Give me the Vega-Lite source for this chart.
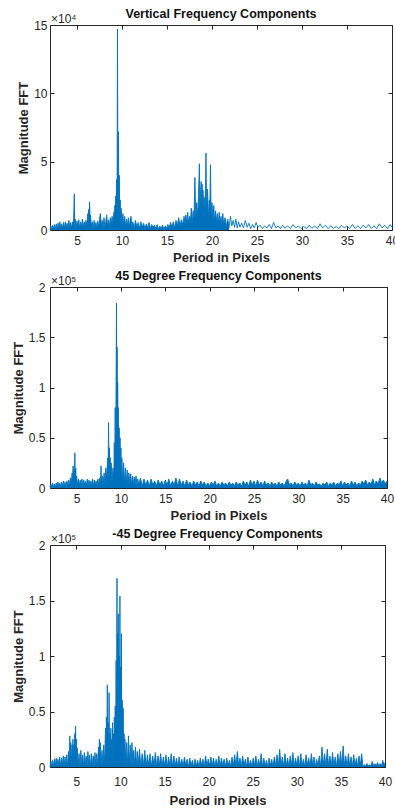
{
"$schema": "https://vega.github.io/schema/vega-lite/v6.json",
"background": "white",
"padding": {"left": 11, "top": 7, "right": 0, "bottom": 2},
"config": {
  "font": "Liberation Sans",
  "view": {"stroke": "#262626", "strokeWidth": 1},
  "axis": {"grid": false, "domain": false, "ticks": true, "tickColor": "#262626", "tickSize": -4, "tickWidth": 1, "labelColor": "#262626", "labelFontSize": 12, "labelFlush": false, "labelOverlap": false, "titleFontSize": 13, "titleFontWeight": "bold", "titleColor": "#262626", "titlePadding": 5},
  "axisX": {"labelPadding": 9},
  "axisY": {"labelPadding": 7, "titlePadding": 3},
  "title": {"fontSize": 12.5, "fontWeight": "bold", "color": "#111111", "offset": -7},
  "line": {"color": "#0072BD", "strokeWidth": 0.9},
  "area": {"color": "#0072BD", "opacity": 1},
  "text": {"color": "#262626", "fontSize": 12, "align": "left", "baseline": "alphabetic"}
},
"datasets": {
"v": [
{"p":2.0,"m":0.05},{"p":2.1,"m":0.3},{"p":2.2,"m":0.05},{"p":2.3,"m":0.35},{"p":2.4,"m":0.08},{"p":2.5,"m":0.4},{"p":2.6,"m":0.1},{"p":2.7,"m":0.45},{"p":2.8,"m":0.05},{"p":2.9,"m":0.5},
{"p":3.0,"m":0.1},{"p":3.1,"m":0.6},{"p":3.2,"m":0.08},{"p":3.3,"m":0.45},{"p":3.4,"m":0.12},{"p":3.5,"m":0.55},{"p":3.6,"m":0.1},{"p":3.7,"m":0.6},{"p":3.8,"m":0.15},{"p":3.9,"m":0.5},
{"p":4.0,"m":0.1},{"p":4.1,"m":0.7},{"p":4.2,"m":0.15},{"p":4.3,"m":0.55},{"p":4.4,"m":0.1},{"p":4.5,"m":0.6},{"p":4.6,"m":0.2},{"p":4.7,"m":2.65},{"p":4.75,"m":0.3},{"p":4.8,"m":0.8},{"p":4.9,"m":0.15},
{"p":5.0,"m":0.65},{"p":5.1,"m":0.2},{"p":5.2,"m":0.75},{"p":5.3,"m":0.1},{"p":5.4,"m":0.6},{"p":5.5,"m":0.2},{"p":5.6,"m":0.8},{"p":5.7,"m":0.15},{"p":5.8,"m":0.6},{"p":5.9,"m":0.25},
{"p":6.0,"m":0.7},{"p":6.1,"m":0.3},{"p":6.2,"m":1.2},{"p":6.25,"m":0.5},{"p":6.3,"m":1.5},{"p":6.35,"m":0.6},{"p":6.4,"m":2.05},{"p":6.45,"m":0.7},{"p":6.5,"m":1.1},{"p":6.6,"m":0.3},{"p":6.7,"m":0.6},{"p":6.8,"m":0.15},{"p":6.9,"m":0.7},
{"p":7.0,"m":0.2},{"p":7.1,"m":0.55},{"p":7.2,"m":0.1},{"p":7.3,"m":0.65},{"p":7.4,"m":0.2},{"p":7.5,"m":0.8},{"p":7.6,"m":1.2},{"p":7.7,"m":0.3},{"p":7.8,"m":0.7},{"p":7.9,"m":0.15},
{"p":8.0,"m":0.9},{"p":8.1,"m":0.2},{"p":8.2,"m":0.6},{"p":8.3,"m":1.1},{"p":8.4,"m":0.25},{"p":8.5,"m":0.75},{"p":8.6,"m":0.2},{"p":8.7,"m":0.9},{"p":8.8,"m":0.3},{"p":8.9,"m":1.0},
{"p":9.0,"m":0.4},{"p":9.1,"m":1.3},{"p":9.15,"m":0.6},{"p":9.2,"m":1.8},{"p":9.25,"m":0.9},{"p":9.3,"m":2.5},{"p":9.35,"m":1.2},{"p":9.4,"m":3.7},{"p":9.45,"m":1.5},{"p":9.5,"m":14.7},{"p":9.55,"m":2.0},{"p":9.6,"m":7.2},{"p":9.65,"m":1.6},{"p":9.7,"m":4.0},{"p":9.75,"m":1.2},{"p":9.8,"m":2.2},{"p":9.85,"m":0.6},{"p":9.9,"m":1.6},
{"p":10.0,"m":0.4},{"p":10.1,"m":1.2},{"p":10.2,"m":0.3},{"p":10.3,"m":1.0},{"p":10.4,"m":0.2},{"p":10.5,"m":0.8},{"p":10.6,"m":0.3},{"p":10.7,"m":0.9},{"p":10.8,"m":0.2},{"p":10.9,"m":0.7},
{"p":11.0,"m":1.0},{"p":11.1,"m":0.2},{"p":11.2,"m":0.6},{"p":11.35,"m":0.15},{"p":11.5,"m":0.7},{"p":11.65,"m":0.2},{"p":11.8,"m":0.55},{"p":11.95,"m":0.1},{"p":12.1,"m":0.6},{"p":12.25,"m":0.2},{"p":12.4,"m":0.5},{"p":12.55,"m":0.1},{"p":12.7,"m":0.45},{"p":12.85,"m":0.15},
{"p":13.0,"m":0.55},{"p":13.15,"m":0.1},{"p":13.3,"m":0.4},{"p":13.45,"m":0.2},{"p":13.6,"m":0.35},{"p":13.75,"m":0.1},{"p":13.9,"m":0.4},{"p":14.05,"m":0.05},{"p":14.2,"m":0.3},{"p":14.35,"m":0.1},{"p":14.5,"m":0.35},{"p":14.65,"m":0.05},{"p":14.8,"m":0.3},{"p":14.95,"m":0.1},
{"p":15.1,"m":0.4},{"p":15.25,"m":0.15},{"p":15.4,"m":0.55},{"p":15.55,"m":0.2},{"p":15.7,"m":0.6},{"p":15.85,"m":0.15},{"p":16.0,"m":0.7},{"p":16.15,"m":0.3},{"p":16.3,"m":0.9},{"p":16.45,"m":0.3},{"p":16.6,"m":0.75},{"p":16.75,"m":0.4},{"p":16.9,"m":1.0},
{"p":17.0,"m":0.4},{"p":17.1,"m":1.1},{"p":17.2,"m":0.5},{"p":17.3,"m":1.3},{"p":17.4,"m":0.4},{"p":17.5,"m":1.0},{"p":17.6,"m":0.6},{"p":17.7,"m":1.6},{"p":17.8,"m":0.5},{"p":17.9,"m":1.4},
{"p":18.0,"m":0.8},{"p":18.1,"m":3.85},{"p":18.2,"m":0.9},{"p":18.3,"m":2.0},{"p":18.4,"m":1.0},{"p":18.5,"m":2.6},{"p":18.6,"m":4.85},{"p":18.65,"m":1.4},{"p":18.7,"m":2.4},{"p":18.8,"m":3.55},{"p":18.85,"m":1.2},{"p":18.9,"m":3.35},{"p":18.95,"m":1.0},
{"p":19.0,"m":2.9},{"p":19.1,"m":1.5},{"p":19.2,"m":2.4},{"p":19.25,"m":1.0},{"p":19.33,"m":5.63},{"p":19.4,"m":1.2},{"p":19.5,"m":3.0},{"p":19.6,"m":0.9},{"p":19.7,"m":2.2},{"p":19.75,"m":1.1},{"p":19.83,"m":4.78},{"p":19.9,"m":1.0},
{"p":20.0,"m":2.0},{"p":20.1,"m":0.6},{"p":20.2,"m":1.8},{"p":20.3,"m":0.5},{"p":20.4,"m":1.4},{"p":20.5,"m":0.6},{"p":20.6,"m":1.2},{"p":20.7,"m":0.4},{"p":20.8,"m":1.3},{"p":20.9,"m":0.5},
{"p":21.0,"m":1.0},{"p":21.1,"m":0.3},{"p":21.2,"m":1.2},{"p":21.3,"m":0.4},{"p":21.45,"m":0.9},{"p":21.6,"m":0.3},{"p":21.75,"m":0.8},{"p":21.9,"m":0.2},
{"p":22.05,"m":1.0},{"p":22.2,"m":0.3},{"p":22.35,"m":0.7},{"p":22.5,"m":0.2},{"p":22.65,"m":0.8},{"p":22.8,"m":0.15},{"p":22.95,"m":0.6},{"p":23.1,"m":0.2},{"p":23.3,"m":0.5},{"p":23.5,"m":0.15},{"p":23.7,"m":0.7},{"p":23.9,"m":0.2},
{"p":24.1,"m":0.5},{"p":24.3,"m":0.1},{"p":24.5,"m":0.4},{"p":24.7,"m":0.15},{"p":24.9,"m":0.55},{"p":25.1,"m":0.2},{"p":25.35,"m":0.35},{"p":25.6,"m":0.1},{"p":25.85,"m":0.3},{"p":26.1,"m":0.15},{"p":26.35,"m":0.4},{"p":26.6,"m":0.1},{"p":26.85,"m":0.55},
{"p":27.1,"m":0.15},{"p":27.35,"m":0.3},{"p":27.6,"m":0.1},{"p":27.85,"m":0.35},{"p":28.1,"m":0.15},{"p":28.4,"m":0.3},{"p":28.7,"m":0.1},{"p":29.0,"m":0.4},{"p":29.3,"m":0.15},{"p":29.6,"m":0.3},{"p":29.9,"m":0.1},
{"p":30.2,"m":0.25},{"p":30.5,"m":0.1},{"p":30.8,"m":0.35},{"p":31.1,"m":0.12},{"p":31.4,"m":0.3},{"p":31.7,"m":0.1},{"p":32.0,"m":0.45},{"p":32.3,"m":0.15},{"p":32.6,"m":0.35},{"p":32.9,"m":0.1},
{"p":33.2,"m":0.3},{"p":33.5,"m":0.12},{"p":33.8,"m":0.25},{"p":34.1,"m":0.1},{"p":34.4,"m":0.35},{"p":34.7,"m":0.15},{"p":35.0,"m":0.3},{"p":35.3,"m":0.1},{"p":35.6,"m":0.4},{"p":35.9,"m":0.12},
{"p":36.2,"m":0.3},{"p":36.5,"m":0.1},{"p":36.8,"m":0.35},{"p":37.1,"m":0.15},{"p":37.4,"m":0.4},{"p":37.7,"m":0.12},{"p":38.0,"m":0.3},{"p":38.3,"m":0.1},{"p":38.6,"m":0.45},{"p":38.9,"m":0.15},{"p":39.2,"m":0.35},{"p":39.5,"m":0.1},{"p":39.8,"m":0.4},{"p":40.0,"m":0.2}
],
"d45": [
{"p":2.0,"m":0.01},{"p":2.1,"m":0.04},{"p":2.2,"m":0.01},{"p":2.3,"m":0.05},{"p":2.4,"m":0.005},{"p":2.5,"m":0.04},{"p":2.6,"m":0.01},{"p":2.7,"m":0.05},{"p":2.8,"m":0.01},{"p":2.9,"m":0.06},
{"p":3.0,"m":0.01},{"p":3.1,"m":0.05},{"p":3.2,"m":0.015},{"p":3.3,"m":0.06},{"p":3.4,"m":0.01},{"p":3.5,"m":0.07},{"p":3.6,"m":0.02},{"p":3.7,"m":0.06},{"p":3.8,"m":0.01},{"p":3.9,"m":0.07},
{"p":4.0,"m":0.02},{"p":4.1,"m":0.08},{"p":4.2,"m":0.03},{"p":4.3,"m":0.1},{"p":4.4,"m":0.05},{"p":4.5,"m":0.15},{"p":4.55,"m":0.06},{"p":4.6,"m":0.22},{"p":4.65,"m":0.08},{"p":4.7,"m":0.18},{"p":4.75,"m":0.1},{"p":4.8,"m":0.35},{"p":4.85,"m":0.1},{"p":4.9,"m":0.2},{"p":4.95,"m":0.07},
{"p":5.0,"m":0.12},{"p":5.1,"m":0.03},{"p":5.2,"m":0.09},{"p":5.3,"m":0.02},{"p":5.4,"m":0.08},{"p":5.5,"m":0.03},{"p":5.6,"m":0.09},{"p":5.7,"m":0.02},{"p":5.8,"m":0.08},{"p":5.9,"m":0.03},
{"p":6.0,"m":0.07},{"p":6.1,"m":0.02},{"p":6.2,"m":0.09},{"p":6.3,"m":0.03},{"p":6.4,"m":0.08},{"p":6.5,"m":0.02},{"p":6.6,"m":0.07},{"p":6.7,"m":0.03},{"p":6.8,"m":0.09},{"p":6.9,"m":0.02},
{"p":7.0,"m":0.08},{"p":7.1,"m":0.03},{"p":7.2,"m":0.07},{"p":7.3,"m":0.02},{"p":7.4,"m":0.09},{"p":7.5,"m":0.03},{"p":7.6,"m":0.1},{"p":7.7,"m":0.04},{"p":7.75,"m":0.22},{"p":7.8,"m":0.05},{"p":7.9,"m":0.12},
{"p":8.0,"m":0.04},{"p":8.1,"m":0.15},{"p":8.2,"m":0.05},{"p":8.3,"m":0.2},{"p":8.4,"m":0.08},{"p":8.5,"m":0.3},{"p":8.55,"m":0.12},{"p":8.6,"m":0.65},{"p":8.65,"m":0.15},{"p":8.7,"m":0.4},{"p":8.75,"m":0.1},{"p":8.8,"m":0.3},{"p":8.85,"m":0.08},{"p":8.9,"m":0.25},
{"p":9.0,"m":0.06},{"p":9.1,"m":0.2},{"p":9.2,"m":0.1},{"p":9.25,"m":0.45},{"p":9.3,"m":0.15},{"p":9.35,"m":0.8},{"p":9.4,"m":0.25},{"p":9.45,"m":1.0},{"p":9.5,"m":1.84},{"p":9.53,"m":0.3},{"p":9.57,"m":1.4},{"p":9.6,"m":0.0},{"p":9.63,"m":1.05},{"p":9.67,"m":0.3},{"p":9.7,"m":0.8},{"p":9.75,"m":0.2},{"p":9.8,"m":0.6},{"p":9.85,"m":0.15},{"p":9.9,"m":0.5},{"p":9.95,"m":0.1},
{"p":10.0,"m":0.4},{"p":10.05,"m":0.08},{"p":10.1,"m":0.3},{"p":10.2,"m":0.06},{"p":10.3,"m":0.25},{"p":10.4,"m":0.05},{"p":10.5,"m":0.2},{"p":10.6,"m":0.04},{"p":10.7,"m":0.18},{"p":10.8,"m":0.05},{"p":10.9,"m":0.15},
{"p":11.0,"m":0.04},{"p":11.1,"m":0.14},{"p":11.2,"m":0.03},{"p":11.3,"m":0.12},{"p":11.4,"m":0.04},{"p":11.5,"m":0.11},{"p":11.6,"m":0.03},{"p":11.7,"m":0.12},{"p":11.8,"m":0.03},{"p":11.9,"m":0.09},
{"p":12.0,"m":0.03},{"p":12.2,"m":0.1},{"p":12.4,"m":0.02},{"p":12.6,"m":0.09},{"p":12.8,"m":0.03},{"p":13.0,"m":0.08},{"p":13.2,"m":0.02},{"p":13.4,"m":0.09},{"p":13.6,"m":0.03},{"p":13.8,"m":0.07},
{"p":14.0,"m":0.02},{"p":14.2,"m":0.08},{"p":14.4,"m":0.03},{"p":14.6,"m":0.07},{"p":14.8,"m":0.02},{"p":15.0,"m":0.08},{"p":15.2,"m":0.03},{"p":15.4,"m":0.09},{"p":15.6,"m":0.02},{"p":15.8,"m":0.07},
{"p":16.0,"m":0.03},{"p":16.2,"m":0.1},{"p":16.4,"m":0.02},{"p":16.6,"m":0.09},{"p":16.8,"m":0.03},{"p":17.0,"m":0.07},{"p":17.2,"m":0.02},{"p":17.4,"m":0.08},{"p":17.6,"m":0.03},{"p":17.8,"m":0.06},
{"p":18.0,"m":0.02},{"p":18.2,"m":0.07},{"p":18.4,"m":0.03},{"p":18.6,"m":0.06},{"p":18.8,"m":0.02},{"p":19.0,"m":0.07},{"p":19.2,"m":0.03},{"p":19.4,"m":0.06},{"p":19.6,"m":0.02},{"p":19.8,"m":0.05},
{"p":20.0,"m":0.02},{"p":20.2,"m":0.06},{"p":20.4,"m":0.03},{"p":20.6,"m":0.07},{"p":20.8,"m":0.02},{"p":21.0,"m":0.05},{"p":21.2,"m":0.02},{"p":21.4,"m":0.06},{"p":21.6,"m":0.03},{"p":21.8,"m":0.05},
{"p":22.0,"m":0.02},{"p":22.2,"m":0.06},{"p":22.4,"m":0.03},{"p":22.6,"m":0.05},{"p":22.8,"m":0.02},{"p":23.0,"m":0.06},{"p":23.2,"m":0.03},{"p":23.4,"m":0.05},{"p":23.6,"m":0.02},{"p":23.8,"m":0.07},
{"p":24.0,"m":0.03},{"p":24.2,"m":0.06},{"p":24.4,"m":0.02},{"p":24.6,"m":0.08},{"p":24.8,"m":0.03},{"p":25.0,"m":0.07},{"p":25.2,"m":0.02},{"p":25.4,"m":0.08},{"p":25.6,"m":0.03},{"p":25.8,"m":0.06},
{"p":26.0,"m":0.02},{"p":26.2,"m":0.07},{"p":26.4,"m":0.03},{"p":26.6,"m":0.05},{"p":26.8,"m":0.02},{"p":27.0,"m":0.06},{"p":27.2,"m":0.03},{"p":27.4,"m":0.05},{"p":27.6,"m":0.02},{"p":27.8,"m":0.06},
{"p":28.0,"m":0.03},{"p":28.2,"m":0.05},{"p":28.4,"m":0.02},{"p":28.6,"m":0.06},{"p":28.8,"m":0.09},{"p":29.0,"m":0.03},{"p":29.2,"m":0.05},{"p":29.4,"m":0.02},{"p":29.6,"m":0.06},{"p":29.8,"m":0.03},
{"p":30.0,"m":0.05},{"p":30.2,"m":0.02},{"p":30.4,"m":0.06},{"p":30.6,"m":0.03},{"p":30.8,"m":0.05},{"p":31.0,"m":0.02},{"p":31.2,"m":0.08},{"p":31.4,"m":0.03},{"p":31.6,"m":0.05},{"p":31.8,"m":0.02},
{"p":32.0,"m":0.06},{"p":32.2,"m":0.03},{"p":32.4,"m":0.04},{"p":32.6,"m":0.02},{"p":32.8,"m":0.05},{"p":33.0,"m":0.03},{"p":33.2,"m":0.06},{"p":33.4,"m":0.02},{"p":33.6,"m":0.05},{"p":33.8,"m":0.03},
{"p":34.0,"m":0.06},{"p":34.2,"m":0.02},{"p":34.4,"m":0.05},{"p":34.6,"m":0.03},{"p":34.8,"m":0.07},{"p":35.0,"m":0.02},{"p":35.2,"m":0.06},{"p":35.4,"m":0.03},{"p":35.6,"m":0.05},{"p":35.8,"m":0.02},
{"p":36.0,"m":0.07},{"p":36.2,"m":0.03},{"p":36.4,"m":0.06},{"p":36.6,"m":0.02},{"p":36.8,"m":0.05},{"p":37.0,"m":0.03},{"p":37.2,"m":0.07},{"p":37.4,"m":0.04},{"p":37.6,"m":0.08},{"p":37.8,"m":0.03},
{"p":38.0,"m":0.06},{"p":38.2,"m":0.04},{"p":38.4,"m":0.09},{"p":38.6,"m":0.03},{"p":38.8,"m":0.07},{"p":39.0,"m":0.04},{"p":39.2,"m":0.1},{"p":39.4,"m":0.05},{"p":39.6,"m":0.08},{"p":39.8,"m":0.04},{"p":40.0,"m":0.07}
],
"dm45": [
{"p":2.0,"m":0.0},{"p":2.1,"m":0.05},{"p":2.2,"m":0.01},{"p":2.3,"m":0.06},{"p":2.4,"m":0.0},{"p":2.5,"m":0.07},{"p":2.6,"m":0.01},{"p":2.7,"m":0.08},{"p":2.8,"m":0.0},{"p":2.9,"m":0.07},
{"p":3.0,"m":0.01},{"p":3.1,"m":0.09},{"p":3.2,"m":0.0},{"p":3.3,"m":0.08},{"p":3.4,"m":0.01},{"p":3.5,"m":0.1},{"p":3.6,"m":0.0},{"p":3.7,"m":0.09},{"p":3.8,"m":0.01},{"p":3.9,"m":0.11},
{"p":4.0,"m":0.0},{"p":4.1,"m":0.14},{"p":4.2,"m":0.02},{"p":4.25,"m":0.28},{"p":4.3,"m":0.03},{"p":4.35,"m":0.22},{"p":4.4,"m":0.02},{"p":4.5,"m":0.2},{"p":4.55,"m":0.03},{"p":4.6,"m":0.25},{"p":4.65,"m":0.03},{"p":4.7,"m":0.2},{"p":4.75,"m":0.04},{"p":4.8,"m":0.3},{"p":4.85,"m":0.03},{"p":4.9,"m":0.37},{"p":4.95,"m":0.04},
{"p":5.0,"m":0.25},{"p":5.05,"m":0.02},{"p":5.1,"m":0.17},{"p":5.2,"m":0.01},{"p":5.3,"m":0.12},{"p":5.4,"m":0.0},{"p":5.5,"m":0.15},{"p":5.6,"m":0.01},{"p":5.7,"m":0.11},{"p":5.8,"m":0.0},{"p":5.9,"m":0.13},
{"p":6.0,"m":0.01},{"p":6.1,"m":0.1},{"p":6.2,"m":0.0},{"p":6.3,"m":0.14},{"p":6.4,"m":0.01},{"p":6.5,"m":0.11},{"p":6.6,"m":0.0},{"p":6.7,"m":0.12},{"p":6.8,"m":0.01},{"p":6.9,"m":0.1},
{"p":7.0,"m":0.0},{"p":7.1,"m":0.13},{"p":7.2,"m":0.01},{"p":7.3,"m":0.12},{"p":7.4,"m":0.0},{"p":7.5,"m":0.18},{"p":7.55,"m":0.02},{"p":7.6,"m":0.25},{"p":7.65,"m":0.02},{"p":7.7,"m":0.22},{"p":7.8,"m":0.01},{"p":7.9,"m":0.15},
{"p":8.0,"m":0.02},{"p":8.1,"m":0.2},{"p":8.2,"m":0.03},{"p":8.3,"m":0.35},{"p":8.35,"m":0.05},{"p":8.4,"m":0.45},{"p":8.45,"m":0.05},{"p":8.5,"m":0.74},{"p":8.55,"m":0.05},{"p":8.6,"m":0.4},{"p":8.65,"m":0.04},{"p":8.7,"m":0.67},{"p":8.75,"m":0.05},{"p":8.8,"m":0.3},{"p":8.85,"m":0.03},{"p":8.9,"m":0.35},{"p":8.95,"m":0.03},
{"p":9.0,"m":0.25},{"p":9.05,"m":0.03},{"p":9.1,"m":0.4},{"p":9.15,"m":0.04},{"p":9.2,"m":0.3},{"p":9.25,"m":0.05},{"p":9.3,"m":0.45},{"p":9.35,"m":0.06},{"p":9.4,"m":0.55},{"p":9.45,"m":0.08},{"p":9.5,"m":0.96},{"p":9.55,"m":0.1},{"p":9.6,"m":1.7},{"p":9.63,"m":0.15},{"p":9.67,"m":1.2},{"p":9.7,"m":0.12},{"p":9.75,"m":1.38},{"p":9.8,"m":0.15},{"p":9.85,"m":1.0},{"p":9.9,"m":0.1},{"p":9.93,"m":1.54},{"p":9.97,"m":0.12},
{"p":10.0,"m":0.9},{"p":10.05,"m":0.08},{"p":10.1,"m":1.2},{"p":10.15,"m":0.06},{"p":10.2,"m":0.6},{"p":10.25,"m":0.05},{"p":10.3,"m":0.53},{"p":10.35,"m":0.04},{"p":10.4,"m":0.3},{"p":10.45,"m":0.03},{"p":10.5,"m":0.25},{"p":10.6,"m":0.02},{"p":10.7,"m":0.22},{"p":10.8,"m":0.01},{"p":10.9,"m":0.28},
{"p":11.0,"m":0.02},{"p":11.1,"m":0.2},{"p":11.2,"m":0.01},{"p":11.3,"m":0.22},{"p":11.4,"m":0.02},{"p":11.5,"m":0.15},{"p":11.6,"m":0.01},{"p":11.7,"m":0.18},{"p":11.8,"m":0.0},{"p":11.9,"m":0.14},
{"p":12.0,"m":0.01},{"p":12.15,"m":0.16},{"p":12.3,"m":0.0},{"p":12.45,"m":0.12},{"p":12.6,"m":0.01},{"p":12.75,"m":0.15},{"p":12.9,"m":0.0},{"p":13.05,"m":0.11},{"p":13.2,"m":0.01},{"p":13.35,"m":0.12},{"p":13.5,"m":0.0},{"p":13.65,"m":0.1},{"p":13.8,"m":0.01},{"p":13.95,"m":0.13},
{"p":14.1,"m":0.0},{"p":14.25,"m":0.1},{"p":14.4,"m":0.01},{"p":14.55,"m":0.12},{"p":14.7,"m":0.0},{"p":14.85,"m":0.09},{"p":15.0,"m":0.01},{"p":15.15,"m":0.11},{"p":15.3,"m":0.0},{"p":15.45,"m":0.09},{"p":15.6,"m":0.01},{"p":15.75,"m":0.12},{"p":15.9,"m":0.0},
{"p":16.05,"m":0.1},{"p":16.2,"m":0.01},{"p":16.35,"m":0.08},{"p":16.5,"m":0.0},{"p":16.65,"m":0.09},{"p":16.8,"m":0.01},{"p":16.95,"m":0.07},{"p":17.1,"m":0.0},{"p":17.25,"m":0.09},{"p":17.4,"m":0.01},{"p":17.55,"m":0.07},{"p":17.7,"m":0.0},{"p":17.85,"m":0.08},
{"p":18.0,"m":0.01},{"p":18.15,"m":0.06},{"p":18.3,"m":0.0},{"p":18.45,"m":0.07},{"p":18.6,"m":0.01},{"p":18.75,"m":0.06},{"p":18.9,"m":0.0},{"p":19.05,"m":0.08},{"p":19.2,"m":0.01},{"p":19.35,"m":0.07},{"p":19.5,"m":0.0},{"p":19.65,"m":0.1},{"p":19.8,"m":0.01},{"p":19.95,"m":0.07},
{"p":20.1,"m":0.0},{"p":20.25,"m":0.09},{"p":20.4,"m":0.01},{"p":20.55,"m":0.08},{"p":20.7,"m":0.0},{"p":20.85,"m":0.07},{"p":21.0,"m":0.01},{"p":21.15,"m":0.1},{"p":21.3,"m":0.0},{"p":21.45,"m":0.08},{"p":21.6,"m":0.01},{"p":21.75,"m":0.07},{"p":21.9,"m":0.0},
{"p":22.05,"m":0.08},{"p":22.2,"m":0.01},{"p":22.35,"m":0.06},{"p":22.5,"m":0.0},{"p":22.65,"m":0.09},{"p":22.8,"m":0.01},{"p":22.95,"m":0.11},{"p":23.1,"m":0.0},{"p":23.25,"m":0.14},{"p":23.4,"m":0.01},{"p":23.55,"m":0.08},{"p":23.7,"m":0.0},{"p":23.85,"m":0.1},
{"p":24.0,"m":0.01},{"p":24.15,"m":0.07},{"p":24.3,"m":0.0},{"p":24.45,"m":0.09},{"p":24.6,"m":0.01},{"p":24.75,"m":0.06},{"p":24.9,"m":0.0},{"p":25.05,"m":0.08},{"p":25.2,"m":0.01},{"p":25.35,"m":0.1},{"p":25.5,"m":0.0},{"p":25.65,"m":0.07},{"p":25.8,"m":0.01},{"p":25.95,"m":0.12},
{"p":26.1,"m":0.0},{"p":26.25,"m":0.08},{"p":26.4,"m":0.01},{"p":26.55,"m":0.06},{"p":26.7,"m":0.0},{"p":26.85,"m":0.08},{"p":27.0,"m":0.01},{"p":27.15,"m":0.07},{"p":27.3,"m":0.0},{"p":27.45,"m":0.09},{"p":27.6,"m":0.01},{"p":27.75,"m":0.11},{"p":27.9,"m":0.0},
{"p":28.05,"m":0.16},{"p":28.2,"m":0.01},{"p":28.35,"m":0.09},{"p":28.5,"m":0.0},{"p":28.65,"m":0.12},{"p":28.8,"m":0.01},{"p":28.95,"m":0.08},{"p":29.1,"m":0.0},{"p":29.25,"m":0.1},{"p":29.4,"m":0.01},{"p":29.55,"m":0.13},{"p":29.7,"m":0.0},{"p":29.85,"m":0.08},
{"p":30.0,"m":0.01},{"p":30.15,"m":0.1},{"p":30.3,"m":0.0},{"p":30.45,"m":0.12},{"p":30.6,"m":0.01},{"p":30.75,"m":0.07},{"p":30.9,"m":0.0},{"p":31.05,"m":0.11},{"p":31.2,"m":0.01},{"p":31.35,"m":0.08},{"p":31.5,"m":0.0},{"p":31.65,"m":0.12},{"p":31.8,"m":0.01},{"p":31.95,"m":0.09},
{"p":32.1,"m":0.0},{"p":32.25,"m":0.07},{"p":32.4,"m":0.01},{"p":32.55,"m":0.1},{"p":32.7,"m":0.0},{"p":32.85,"m":0.18},{"p":33.0,"m":0.01},{"p":33.15,"m":0.12},{"p":33.3,"m":0.0},{"p":33.45,"m":0.16},{"p":33.6,"m":0.01},{"p":33.75,"m":0.1},{"p":33.9,"m":0.0},
{"p":34.05,"m":0.13},{"p":34.2,"m":0.01},{"p":34.35,"m":0.09},{"p":34.5,"m":0.0},{"p":34.65,"m":0.12},{"p":34.8,"m":0.01},{"p":34.95,"m":0.14},{"p":35.1,"m":0.0},{"p":35.25,"m":0.19},{"p":35.4,"m":0.01},{"p":35.55,"m":0.1},{"p":35.7,"m":0.0},{"p":35.85,"m":0.12},
{"p":36.0,"m":0.01},{"p":36.15,"m":0.09},{"p":36.3,"m":0.0},{"p":36.45,"m":0.11},{"p":36.6,"m":0.01},{"p":36.75,"m":0.08},{"p":36.9,"m":0.0},{"p":37.05,"m":0.1},{"p":37.2,"m":0.01},{"p":37.35,"m":0.12},{"p":37.5,"m":0.0},{"p":37.65,"m":0.02},{"p":37.8,"m":0.01},{"p":37.95,"m":0.03},
{"p":38.1,"m":0.01},{"p":38.25,"m":0.02},{"p":38.4,"m":0.01},{"p":38.55,"m":0.05},{"p":38.7,"m":0.01},{"p":38.85,"m":0.03},{"p":39.0,"m":0.01},{"p":39.15,"m":0.04},{"p":39.3,"m":0.01},{"p":39.45,"m":0.03},{"p":39.6,"m":0.01},{"p":39.75,"m":0.06},{"p":39.9,"m":0.01},{"p":40.0,"m":0.04}
]
},
"concat": [
{
  "width": 342, "height": 205,
  "title": "Vertical Frequency Components",
  "layer": [
    {"data": {"name": "v"}, "transform": [{"filter": "datum.p <= 22"}], "mark": {"type": "area"},
     "encoding": {
       "x": {"field": "p", "type": "quantitative", "scale": {"domain": [2, 40], "nice": false, "zero": false}, "axis": {"values": [5,10,15,20,25,30,35,40], "title": "Period in Pixels"}},
       "y": {"field": "m", "type": "quantitative", "scale": {"domain": [0, 15], "nice": false}, "axis": {"values": [0,5,10,15], "title": "Magnitude FFT"}}
     }},
    {"data": {"name": "v"}, "mark": {"type": "line"},
     "encoding": {
       "x": {"field": "p", "type": "quantitative", "axis": null},
       "y": {"field": "m", "type": "quantitative", "axis": null}
     }},
    {"data": {"values": [{}]}, "mark": {"type": "text", "dx": 1, "dy": -2},
     "encoding": {
       "x": {"datum": 2, "type": "quantitative", "axis": {"orient": "top", "labels": false, "title": null, "values": [5,10,15,20,25,30,35,40]}},
       "y": {"datum": 15, "type": "quantitative", "axis": {"orient": "right", "labels": false, "title": null, "values": [0,5,10,15]}},
       "text": {"value": "×10⁴"}
     }}
  ],
  "resolve": {"axis": {"x": "independent", "y": "independent"}}
},
{
  "width": 337, "height": 201,
  "title": "45 Degree Frequency Components",
  "layer": [
    {"data": {"name": "d45"}, "mark": {"type": "area"},
     "encoding": {
       "x": {"field": "p", "type": "quantitative", "scale": {"domain": [2, 40], "nice": false, "zero": false}, "axis": {"values": [5,10,15,20,25,30,35,40], "title": "Period in Pixels"}},
       "y": {"field": "m", "type": "quantitative", "scale": {"domain": [0, 2], "nice": false}, "axis": {"values": [0,0.5,1,1.5,2], "format": "~g", "title": "Magnitude FFT", "labelPadding": 9}}
     }},
    {"data": {"name": "d45"}, "mark": {"type": "line"},
     "encoding": {
       "x": {"field": "p", "type": "quantitative", "axis": null},
       "y": {"field": "m", "type": "quantitative", "axis": null}
     }},
    {"data": {"values": [{}]}, "mark": {"type": "text", "dx": 1, "dy": -2},
     "encoding": {
       "x": {"datum": 2, "type": "quantitative", "axis": {"orient": "top", "labels": false, "title": null, "values": [5,10,15,20,25,30,35,40]}},
       "y": {"datum": 2, "type": "quantitative", "axis": {"orient": "right", "labels": false, "title": null, "values": [0,0.5,1,1.5,2]}},
       "text": {"value": "×10⁵"}
     }}
  ],
  "resolve": {"axis": {"x": "independent", "y": "independent"}}
},
{
  "width": 335, "height": 222,
  "title": "-45 Degree Frequency Components",
  "layer": [
    {"data": {"name": "dm45"}, "mark": {"type": "area"},
     "encoding": {
       "x": {"field": "p", "type": "quantitative", "scale": {"domain": [2, 40], "nice": false, "zero": false}, "axis": {"values": [5,10,15,20,25,30,35,40], "title": "Period in Pixels", "labelPadding": 13, "titlePadding": 7}},
       "y": {"field": "m", "type": "quantitative", "scale": {"domain": [0, 2], "nice": false}, "axis": {"values": [0,0.5,1,1.5,2], "format": "~g", "title": "Magnitude FFT", "labelPadding": 9}}
     }},
    {"data": {"name": "dm45"}, "mark": {"type": "line"},
     "encoding": {
       "x": {"field": "p", "type": "quantitative", "axis": null},
       "y": {"field": "m", "type": "quantitative", "axis": null}
     }},
    {"data": {"values": [{}]}, "mark": {"type": "text", "dx": 1, "dy": -2},
     "encoding": {
       "x": {"datum": 2, "type": "quantitative", "axis": {"orient": "top", "labels": false, "title": null, "values": [5,10,15,20,25,30,35,40]}},
       "y": {"datum": 2, "type": "quantitative", "axis": {"orient": "right", "labels": false, "title": null, "values": [0,0.5,1,1.5,2]}},
       "text": {"value": "×10⁵"}
     }}
  ],
  "resolve": {"axis": {"x": "independent", "y": "independent"}}
}
],
"columns": 1,
"align": "none",
"spacing": 4
}
